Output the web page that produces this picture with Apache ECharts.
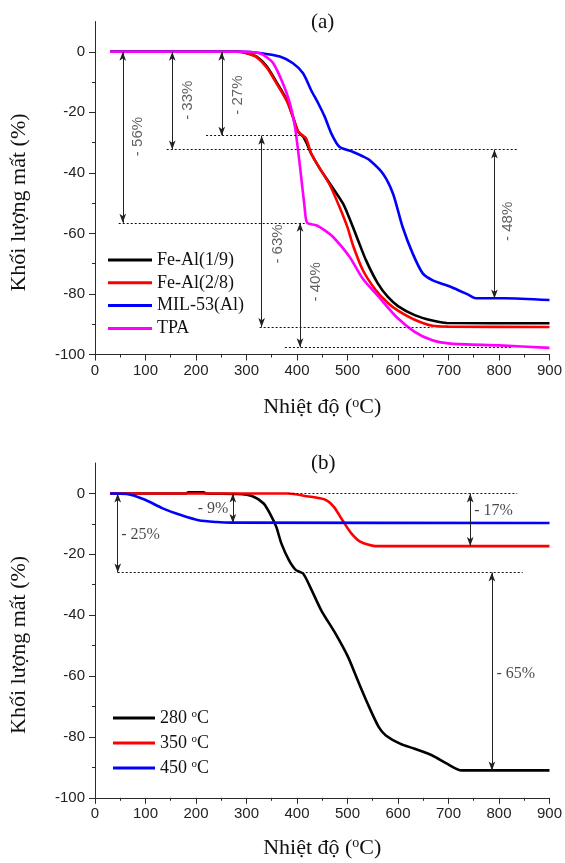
<!DOCTYPE html>
<html>
<head>
<meta charset="utf-8">
<script src="https://cdn.jsdelivr.net/npm/echarts@6/dist/echarts.min.js"></script>
<style>
  html, body { margin: 0; padding: 0; background: #fff; }
  #chart { width: 565px; height: 863px; }
</style>
</head>
<body>
<div id="chart"></div>
<script>
(function () {
  var SERIF = '"Liberation Serif", "Times New Roman", serif';
  var SANS = '"Liberation Sans", Arial, sans-serif';
  var AXIS = '#2a2a2a';
  var INK = '#222';

  // panel (a): [temperature, mass change %]
  var FEAL_19 = [[30,0],[285,0],[300,-0.4],[320,-1.6],[340,-4.8],[360,-10.2],[380,-16],[392,-21.5],[402,-26.4],
    [412,-28],[420,-30.5],[428,-33.6],[445,-38.5],[465,-43.5],[491,-50.1],[505,-55.5],[518,-61],[537,-69],
    [560,-76.5],[580,-81],[600,-84],[633,-87],[668,-88.8],[697,-89.6],[900,-89.7]];
  var FEAL_28 = [[30,0],[280,0],[300,-0.5],[320,-1.8],[340,-5.2],[360,-10.6],[380,-16.3],[392,-21.5],[402,-26.2],
    [410,-27.5],[418,-28.6],[428,-33.6],[445,-38.5],[465,-44],[484,-51.2],[500,-58],[511,-64],[530,-72],
    [555,-78.5],[580,-83],[600,-85.5],[633,-88.5],[668,-90.5],[700,-90.8],[900,-90.9]];
  var MIL53 = [[30,0],[290,0],[326,-0.4],[366,-1.6],[392,-3.8],[412,-7.1],[428,-12.7],[442,-17],[455,-21.5],
    [468,-27],[484,-31.4],[510,-33],[530,-34.5],[544,-35.8],[570,-40.2],[590,-46.8],[609,-57.8],[629,-66.6],
    [649,-73.2],[669,-75.5],[704,-77.6],[740,-80.3],[754,-81.4],[810,-81.4],[900,-82]];
  var TPA = [[30,0],[300,0],[326,-0.5],[340,-1.8],[353,-3.8],[372,-10.4],[386,-17],[396,-24.8],[406,-38],
    [415,-51.2],[420,-56.5],[438,-57.3],[455,-59],[471,-61.1],[504,-67.7],[530,-74.9],[562,-81],[597,-87.6],
    [633,-92.5],[668,-95.3],[704,-96.4],[800,-97],[900,-97.8]];

  // panel (b)
  var T280 = [[30,0],[180,0],[185,0.4],[215,0.4],[220,0],[283,-0.2],[312,-0.9],[334,-3.3],[348,-7.1],[359,-11],
    [369,-16.4],[384,-21.9],[398,-25.2],[412,-26.3],[426,-30.7],[448,-38.4],[476,-46],[501,-53.7],[519,-60.9],
    [540,-69.1],[562,-76.8],[576,-79.5],[604,-82.2],[633,-83.9],[668,-86.1],[697,-88.8],[726,-91],[900,-91]];
  var T350 = [[30,0],[383,0],[419,-0.9],[455,-2],[473,-4.4],[490,-8.8],[508,-13.2],[526,-15.9],[555,-17.3],[900,-17.3]];
  var T450 = [[30,0],[63,-0.2],[98,-2],[134,-4.9],[170,-7.1],[205,-8.8],[241,-9.4],[270,-9.6],[900,-9.7]];

  var NAMES_A = ['Fe-Al(1/9)', 'Fe-Al(2/8)', 'MIL-53(Al)', 'TPA'];
  var NAMES_B = ['280 °C', '350 °C', '450 °C'];
  var Y_TICKS = [-100, -80, -60, -40, -20, 0];
  var Y_MINOR = [-90, -70, -50, -30, -10];

  // dotted guides: [y, xFrom, xTo]; arrows: [x, yFrom, yTo]; notes: [text, x, y]
  var A_GUIDES = [[-27.7,220,405],[-32.3,142,836],[-56.5,47,418],[-90.9,326,668],[-97.6,376,825]];
  var A_ARROWS = [[55,0,-56.5],[153,0,-32.3],[251,0,-27.7],[330,-27.7,-90.9],[406,-56.5,-97.6],[791,-32.3,-81.5]];
  var A_NOTES = [['- 56%',84,-28],['- 33%',184,-16],['- 27%',283,-14.3],['- 63%',362,-63.5],['- 40%',437,-76],['- 48%',818,-56]];
  var B_GUIDES = [[0,383,836],[-26,45,847]];
  var B_ARROWS = [[45,0,-26],[273,0,-9.7],[743,0,-17.3],[786,-26,-91]];
  var B_NOTES = [['- 25%',52,-13.5,'right'],['- 9%',264,-4.9,'left'],['- 17%',751,-5.7,'right'],['- 65%',795,-59.2,'right']];

  var SUP = { sup: { fontFamily: SERIF, fontSize: 14, verticalAlign: 'top', color: '#111' } };

  function xAxis(grid, gap) {
    return {
      type: 'value', gridIndex: grid, min: 0, max: 900, interval: 100,
      axisLine: { onZero: false, lineStyle: { color: AXIS, width: 1 } },
      axisTick: { length: 6, lineStyle: { color: AXIS } },
      minorTick: { show: true, splitNumber: 2, length: 3, lineStyle: { color: AXIS } },
      splitLine: { show: false },
      axisLabel: { color: INK, fontFamily: SANS, fontSize: 15, margin: 9 },
      name: 'Nhiệt độ ({sup|o}C)', nameLocation: 'middle', nameGap: gap,
      nameTextStyle: { fontFamily: SERIF, fontSize: 22, color: '#111', rich: SUP }
    };
  }

  function yAxis(grid) {
    return {
      type: 'value', gridIndex: grid, min: -100, max: 10, interval: 20,
      axisLine: { show: true, onZero: false, lineStyle: { color: AXIS, width: 1 } },
      axisTick: { show: true, length: 6, customValues: Y_TICKS, lineStyle: { color: AXIS } },
      splitLine: { show: false },
      axisLabel: { customValues: Y_TICKS, color: INK, fontFamily: SANS, fontSize: 15, margin: 10 },
      name: 'Khối lượng mất (%)', nameLocation: 'middle', nameGap: 65,
      nameTextStyle: { fontFamily: SERIF, fontSize: 22, color: '#111', padding: [0, 29, 0, 0] }
    };
  }

  function yMinor(grid) {
    return {
      type: 'value', gridIndex: grid, min: -100, max: 10, position: 'left', offset: 0,
      axisLine: { show: false, onZero: false },
      axisLabel: { show: false },
      splitLine: { show: false },
      axisTick: { show: true, length: 3, customValues: Y_MINOR, lineStyle: { color: AXIS } }
    };
  }

  function curve(name, data, color, xi, yi) {
    return {
      name: name, type: 'line', data: data, xAxisIndex: xi, yAxisIndex: yi,
      showSymbol: false, symbol: 'none', smooth: 0.25,
      lineStyle: { color: color, width: 2.6 }, itemStyle: { color: color },
      emphasis: { disabled: true }, silent: true
    };
  }

  function guideLines(list) {
    return {
      silent: true, symbol: 'none', animation: false,
      label: { show: false }, emphasis: { disabled: true },
      lineStyle: { color: '#111', width: 1, type: [2, 2] },
      data: list.map(function (g) { return [{ coord: [g[1], g[0]] }, { coord: [g[2], g[0]] }]; })
    };
  }

  function arrowLines(list) {
    return {
      silent: true, symbol: ['arrow', 'arrow'], symbolSize: [5, 9], animation: false,
      label: { show: false }, emphasis: { disabled: true },
      lineStyle: { color: '#222', width: 1, type: 'solid' },
      data: list.map(function (a) { return [{ coord: [a[0], a[1]] }, { coord: [a[0], a[2]] }]; })
    };
  }

  function notesA(list) {
    return {
      type: 'scatter', xAxisIndex: 0, yAxisIndex: 0, symbolSize: 0, silent: true,
      itemStyle: { color: 'transparent' },
      data: list.map(function (n) {
        return {
          value: [n[1], n[2]],
          label: { show: true, formatter: n[0], position: 'inside', rotate: 90,
            fontFamily: SANS, fontSize: 15, color: '#3a3a3a' }
        };
      })
    };
  }

  function notesB(list) {
    return {
      type: 'scatter', xAxisIndex: 1, yAxisIndex: 2, symbolSize: 0, silent: true,
      itemStyle: { color: 'transparent' },
      data: list.map(function (n) {
        return {
          value: [n[1], n[2]],
          label: { show: true, formatter: n[0], position: n[3], distance: 0,
            fontFamily: SERIF, fontSize: 16, color: '#1a1a1a' }
        };
      })
    };
  }

  var sA = [
    curve(NAMES_A[0], FEAL_19, '#000000', 0, 0),
    curve(NAMES_A[1], FEAL_28, '#ff0000', 0, 0),
    curve(NAMES_A[2], MIL53, '#0000ff', 0, 0),
    curve(NAMES_A[3], TPA, '#ff00ff', 0, 0)
  ];
  sA[0].markLine = guideLines(A_GUIDES);
  sA[1].markLine = arrowLines(A_ARROWS);

  var sB = [
    curve(NAMES_B[0], T280, '#000000', 1, 2),
    curve(NAMES_B[1], T350, '#ff0000', 1, 2),
    curve(NAMES_B[2], T450, '#0000ff', 1, 2)
  ];
  sB[0].markLine = guideLines(B_GUIDES);
  sB[1].markLine = arrowLines(B_ARROWS);

  var legendText = { fontFamily: SERIF, fontSize: 18, lineHeight: 18, color: '#111',
    rich: { sup: { fontFamily: SERIF, fontSize: 11, verticalAlign: 'top', color: '#111' } } };

  var option = {
    animation: false,
    backgroundColor: '#fff',
    title: [
      { text: '(a)', left: 311, top: 12, padding: 0,
        textStyle: { fontFamily: SERIF, fontSize: 21, fontWeight: 'normal', color: '#111' } },
      { text: '(b)', left: 311, top: 453, padding: 0,
        textStyle: { fontFamily: SERIF, fontSize: 21, fontWeight: 'normal', color: '#111' } }
    ],
    legend: [
      { data: NAMES_A, orient: 'vertical', left: 108, top: 251, padding: 0,
        icon: 'rect', itemWidth: 44, itemHeight: 3, itemGap: 4.8, selectedMode: false,
        textStyle: legendText },
      { data: NAMES_B, orient: 'vertical', left: 113, top: 709, padding: 0,
        icon: 'rect', itemWidth: 42, itemHeight: 3, itemGap: 7, selectedMode: false,
        textStyle: legendText,
        formatter: function (name) { return name.replace('°C', '{sup|o}C'); } }
    ],
    grid: [
      { left: 94, width: 456, top: 21.5, height: 333 },
      { left: 94, width: 456, top: 463, height: 334.8 }
    ],
    xAxis: [xAxis(0, 42), xAxis(1, 39)],
    yAxis: [yAxis(0), yMinor(0), yAxis(1), yMinor(1)],
    series: sA.concat(sB, [notesA(A_NOTES), notesB(B_NOTES)])
  };

  var chart = echarts.init(document.getElementById('chart'), null, { renderer: 'canvas' });
  chart.setOption(option);
})();
</script>
</body>
</html>
